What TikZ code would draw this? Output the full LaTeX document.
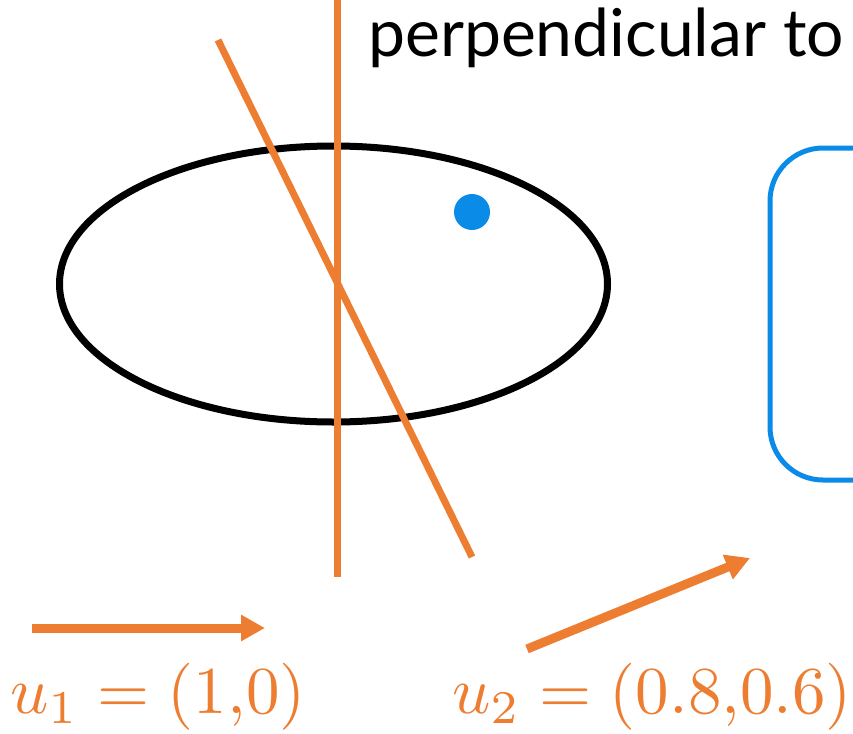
\documentclass[tikz,border=0pt]{standalone}
\usepackage{fontspec}
\usepackage{graphicx}
\setmainfont{Lato}
\usetikzlibrary{arrows.meta,positioning,calc}
\definecolor{vecorange}{HTML}{ED7D31}
\definecolor{dotblue}{HTML}{0A8BE8}
\tikzset{
  proj/.style={draw=vecorange, line width=7pt},
  vec/.style={draw=vecorange, line width=9pt, -{Triangle[length=24pt,width=25pt]}},
  veclabel/.style={text=vecorange, inner sep=0pt, anchor=base west, font=\normalsize},
}
\newcommand{\biglabel}[1]{\scalebox{6.7}{$#1$}}

\begin{document}
\begin{tikzpicture}[x=1pt,y=-1pt]
    \useasboundingbox (0,0) rectangle (853,733);
    \clip (0,0) rectangle (853,733);
    % data ellipse
    \draw[line width=7pt] (333.5,284) ellipse [x radius=274, y radius=138];
    % projection directions
    \coordinate (vtop) at (337,0);
    \coordinate (vbot) at (337,577);
    \draw[proj] (vtop) -- (vbot);
    \coordinate (stop) at (218,40);
    \coordinate (sbot) at (472,557);
    \draw[proj] (stop) -- (sbot);
    % point
    \fill[dotblue] (472,212) circle (18);
    % box on the right
    \draw[dotblue, line width=5pt, rounded corners=53pt] (950,148) -- (770,148) -- (770,480) -- (950,480);
    % caption
    \node[anchor=base west, inner sep=0pt, font=\fontsize{66}{72}\selectfont] (cap) at (368,57) {perpendicular to};
    % unit vectors
    \coordinate (u1s) at (32,628);
    \coordinate (u1e) at (265,628);
    \draw[vec] (u1s) -- (u1e);
    \coordinate (u2s) at (527,649);
    \coordinate (u2e) at (750,558);
    \draw[vec] (u2s) -- (u2e);
    \node[veclabel] (u1) at (10,713) {\biglabel{u_1 = (1{,}0)}};
    \node[veclabel] (u2) at (452,713) {\biglabel{u_2 = (0.8{,}0.6)}};
\end{tikzpicture}
\end{document}
